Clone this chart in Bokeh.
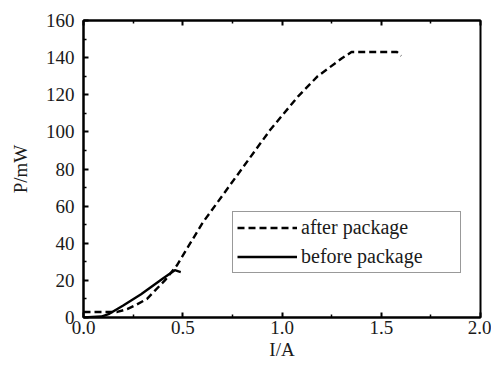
from bokeh.plotting import figure
from bokeh.models import LinearAxis, Legend, LegendItem, Range1d, FixedTicker, PrintfTickFormatter
from bokeh.embed import file_html
from bokeh.resources import INLINE

# after package (dashed)
after_I = [0.0, 0.17, 0.22, 0.26, 0.32, 0.36, 0.41, 0.47, 0.60, 0.77, 0.94, 1.08, 1.18, 1.30, 1.35, 1.58, 1.60]
after_P = [3.0, 3.0, 4.5, 6.5, 10.0, 14.5, 20.0, 28.0, 51.0, 76.0, 101.0, 119.0, 130.0, 139.5, 143.0, 143.0, 141.0]
# before package (solid)
before_I = [0.0, 0.09, 0.13, 0.20, 0.29, 0.40, 0.46, 0.49]
before_P = [0.0, 0.5, 2.0, 6.5, 12.5, 21.0, 25.5, 24.5]

x_ticks = [0.0, 0.5, 1.0, 1.5, 2.0]
x_minor = [0.25, 0.75, 1.25, 1.75]
y_ticks = [0, 20, 40, 60, 80, 100, 120, 140, 160]
y_minor = [10, 30, 50, 70, 90, 110, 130, 150]

FONT = "Liberation Serif"
TXT = "#1a1a1a"

p = figure(width=491, height=367, output_backend="svg", toolbar_location=None,
           x_range=Range1d(0, 2.0), y_range=Range1d(0, 160),
           min_border_left=83, min_border_right=11, min_border_top=20, min_border_bottom=50)
p.grid.visible = False
p.background_fill_color = "white"
p.border_fill_color = "white"
p.outline_line_color = "black"
p.outline_line_width = 2

r_after = p.line(after_I, after_P, line_color="black", line_width=2.4, line_dash="7 4")
r_before = p.line(before_I, before_P, line_color="black", line_width=2.4)

def style(ax):
    ax.axis_line_color = "black"
    ax.axis_line_width = 2
    ax.major_tick_in = 5
    ax.major_tick_out = 0
    ax.minor_tick_in = 3
    ax.minor_tick_out = 0
    ax.major_tick_line_width = 2
    ax.minor_tick_line_width = 1.5
    ax.major_tick_line_color = "black"
    ax.minor_tick_line_color = "black"
    ax.major_label_text_font = FONT
    ax.major_label_text_font_size = "19px"
    ax.major_label_text_color = TXT
    ax.axis_label_text_font = FONT
    ax.axis_label_text_font_size = "19px"
    ax.axis_label_text_font_style = "normal"
    ax.axis_label_text_color = TXT

p.xaxis.ticker = FixedTicker(ticks=x_ticks, minor_ticks=x_minor)
p.yaxis.ticker = FixedTicker(ticks=y_ticks, minor_ticks=y_minor)
p.xaxis.formatter = PrintfTickFormatter(format="%.1f")
p.xaxis.axis_label = "I/A"
p.yaxis.axis_label = "P/mW"
style(p.xaxis[0])
style(p.yaxis[0])
p.xaxis.major_label_standoff = 3
p.xaxis.axis_label_standoff = 2
p.yaxis.major_label_standoff = 9
p.yaxis.axis_label_standoff = 12

top = LinearAxis(ticker=FixedTicker(ticks=x_ticks, minor_ticks=x_minor))
style(top)
top.major_label_overrides = {t: "" for t in x_ticks}
top.major_label_text_font_size = "1px"
top.major_label_standoff = 0
p.add_layout(top, "above")

legend = Legend(items=[LegendItem(label="after package", renderers=[r_after]),
                       LegendItem(label="before package", renderers=[r_before])],
                location=(149, 44))
legend.label_text_font = FONT
legend.label_text_font_size = "20px"
legend.label_text_color = TXT
legend.glyph_width = 60
legend.glyph_height = 21
legend.label_height = 21
legend.label_width = 155
legend.label_standoff = 4
legend.spacing = 6
legend.padding = 4
legend.margin = 0
legend.border_line_color = "#333333"
legend.border_line_width = 1.5
legend.background_fill_alpha = 1.0
p.add_layout(legend, "center")

open("out.html", "w").write(file_html(p, INLINE))
